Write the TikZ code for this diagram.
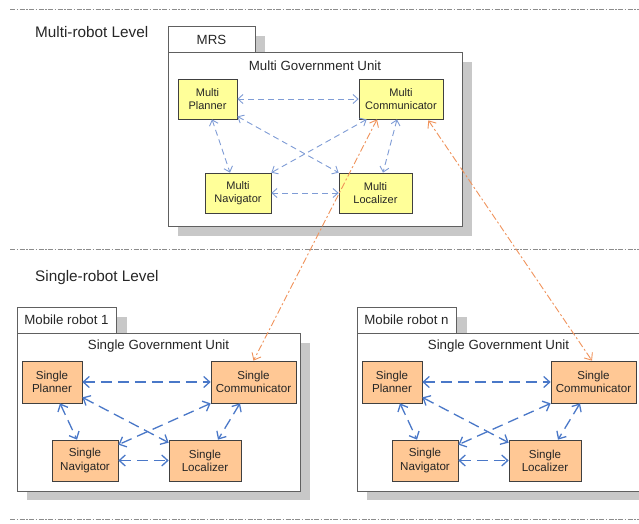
\documentclass[tikz,border=0pt]{standalone}
\usepackage{fontspec}
\setmainfont{Liberation Sans}
\usetikzlibrary{arrows.meta,calc}
\definecolor{shadowgray}{HTML}{C8C8C8}
\definecolor{framegray}{HTML}{606060}
\definecolor{multifill}{HTML}{FFFF99}
\definecolor{singlefill}{HTML}{FFC895}
\definecolor{multiblue}{HTML}{7F9CD6}
\definecolor{singleblue}{HTML}{4A78C8}
\definecolor{linkorange}{HTML}{F0925A}
\definecolor{levelgray}{HTML}{8C8C8C}
\tikzset{
  levelline/.style={levelgray, line width=0.8pt, dash pattern=on 5pt off 1.5pt on 1.5pt off 1.5pt},
  levellabel/.style={anchor=west, font=\fontsize{15.3}{18}\selectfont, text=black!85, inner sep=0pt},
  shade box/.style={fill=shadowgray, draw=none},
  frame box/.style={fill=white, draw=framegray, line width=0.7pt},
  tabtext/.style={font=\fontsize{13.3}{16}\selectfont, text=black!85, inner sep=0pt},
  unittext/.style={font=\fontsize{13.3}{16}\selectfont, text=black!85, inner sep=0pt},
  multinode/.style={draw=black!75, fill=multifill, line width=0.7pt, align=center,
    font=\fontsize{11}{13.3}\selectfont, text=black!85, inner sep=0pt},
  singlenode/.style={draw=black!75, fill=singlefill, line width=0.7pt, align=center,
    font=\fontsize{11.6}{13.3}\selectfont, text=black!85, inner sep=0pt},
  multilink/.style={multiblue, line width=0.9pt, dash pattern=on 6pt off 4pt,
    {Straight Barb[length=5pt,width=9pt]}-{Straight Barb[length=5pt,width=9pt]}},
  singlelink/.style={singleblue, line width=1.3pt, dash pattern=on 11pt off 6pt,
    {Straight Barb[length=6pt,width=11pt]}-{Straight Barb[length=6pt,width=11pt]}},
  orangelink/.style={linkorange, line width=0.9pt, dash pattern=on 7pt off 2.5pt on 2pt off 2.5pt,
    {Straight Barb[length=6pt,width=10pt]}-{Straight Barb[length=6pt,width=10pt]}},
}
\begin{document}
\begin{tikzpicture}[x=1pt,y=-1pt]
\useasboundingbox (0,0) rectangle (639,523);
\clip (0,0) rectangle (639,523);

% level separators and labels
\draw[levelline] (10,9) -- (639,9);
\draw[levelline] (10,249) -- (639,249);
\draw[levelline] (10,519) -- (639,519);
\node[levellabel] (lvlmulti) at (35,32) {Multi-robot Level};
\node[levellabel] (lvlsingle) at (35,278) {Single-robot Level};

% ---------- MRS package ----------
\fill[shade box] (178,36) rectangle (265,62);
\fill[shade box] (178,62) rectangle (472,236);
\draw[frame box] (168,26) rectangle (255,52);
\draw[frame box] (168,52) rectangle (462,226);
\node[tabtext] (mrstab) at (211.5,39.5) {MRS};
\node[unittext] (mgu) at (315,66) {Multi Government Unit};

\node[multinode, minimum width=59pt, minimum height=40pt] (MPlan) at (207.5,99) {Multi\\Planner};
\node[multinode, minimum width=84pt, minimum height=40pt] (MComm) at (401,99) {Multi\\Communicator};
\node[multinode, minimum width=66pt, minimum height=40pt] (MNav) at (238,193) {Multi\\Navigator};
\node[multinode, minimum width=73pt, minimum height=40pt] (MLoc) at (375.5,193) {Multi\\Localizer};

\draw[multilink] (MPlan.east) -- (MComm.west);
\draw[multilink] ($(MPlan.south)+(4.5,0)$) -- ($(MNav.north)+(-8,0)$);
\draw[multilink] ($(MPlan.south east)+(0,-3)$) -- (MLoc.north west);
\draw[multilink] ($(MComm.south west)+(8,0)$) -- (MNav.north east);
\draw[multilink] ($(MComm.south)+(-4,0)$) -- ($(MLoc.north)+(7.5,0)$);
\draw[multilink] (MNav.east) -- (MLoc.west);

% ---------- Mobile robot packages ----------
\foreach \dx/\nm/\tab in {0/A/Mobile robot 1, 340/B/Mobile robot n}{
  \begin{scope}[xshift=\dx pt]
    \fill[shade box] (27,317) rectangle (127,343);
    \fill[shade box] (27,343) rectangle (310,500);
    \draw[frame box] (17,307) rectangle (116,333);
    \draw[frame box] (17,333) rectangle (300,491);
    \node[tabtext] (tab\nm) at (66.5,320) {\tab};
    \node[unittext] (sgu\nm) at (158.5,346) {Single Government Unit};

    \node[singlenode, minimum width=60pt, minimum height=42pt] (SPlan\nm) at (52,382) {Single\\Planner};
    \node[singlenode, minimum width=85pt, minimum height=42pt] (SComm\nm) at (253.5,382) {Single\\Communicator};
    \node[singlenode, minimum width=66pt, minimum height=41pt] (SNav\nm) at (85,460.5) {Single\\Navigator};
    \node[singlenode, minimum width=72pt, minimum height=41pt] (SLoc\nm) at (205,460.5) {Single\\Localizer};

    \draw[singlelink] (SPlan\nm.east) -- (SComm\nm.west);
    \draw[singlelink] ($(SPlan\nm.south)+(8,0)$) -- ($(SNav\nm.north)+(-8,0)$);
    \draw[singlelink] ($(SPlan\nm.south east)+(0,-6)$) -- ($(SLoc\nm.north west)+(0,3)$);
    \draw[singlelink] (SComm\nm.south west) -- ($(SNav\nm.north east)+(0,5)$);
    \draw[singlelink] ($(SComm\nm.south)+(-13.5,0)$) -- ($(SLoc\nm.north)+(13,0)$);
    \draw[singlelink] (SNav\nm.east) -- (SLoc\nm.west);
  \end{scope}
}

% ---------- links between the levels ----------
\draw[orangelink] ($(MComm.south)+(-24,0)$) -- (SCommA.north);
\draw[orangelink] ($(MComm.south east)+(-15,1)$) -- ($(SCommB.north)+(-1.5,0)$);
\end{tikzpicture}
\end{document}
